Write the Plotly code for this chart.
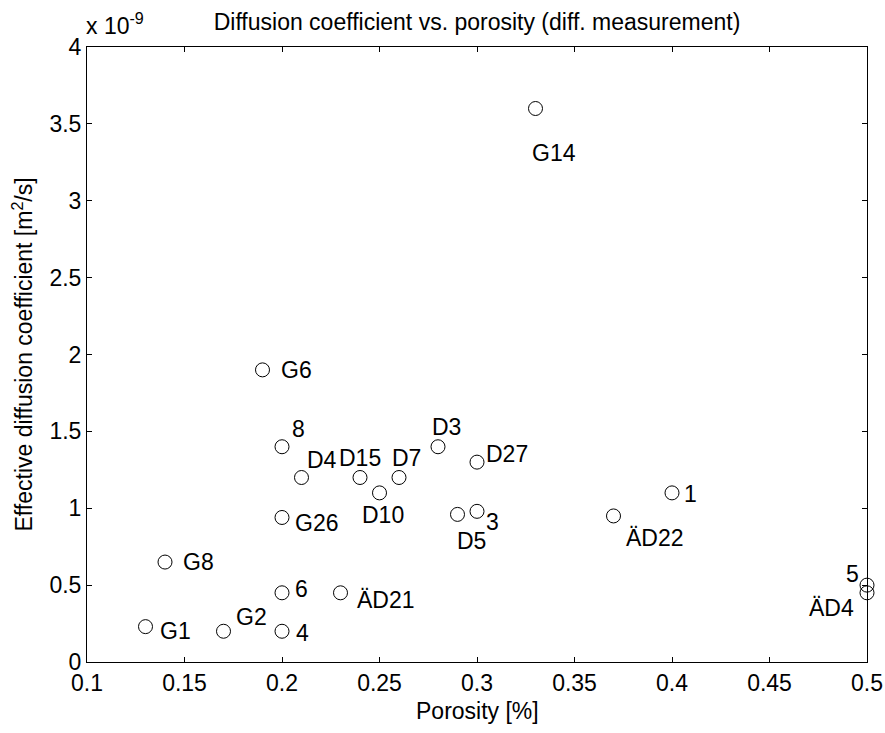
import plotly.graph_objects as go

# Data (effective diffusion coefficient in units of 1e-9 m^2/s)
labels = ["G14", "G6", "8", "D4", "D15", "D7", "D3", "D27", "D10", "G26", "D5", "3",
          "G8", "6", "ÄD21", "G1", "G2", "4", "1", "ÄD22", "5", "ÄD4"]
porosity = [0.33, 0.19, 0.20, 0.21, 0.24, 0.26, 0.28, 0.30, 0.25, 0.20, 0.29, 0.30,
            0.14, 0.20, 0.23, 0.13, 0.17, 0.20, 0.40, 0.37, 0.50, 0.50]
deff = [3.60, 1.90, 1.40, 1.20, 1.20, 1.20, 1.40, 1.30, 1.10, 0.94, 0.96, 0.98,
        0.65, 0.45, 0.45, 0.23, 0.20, 0.20, 1.10, 0.95, 0.50, 0.45]
# label offsets in pixels (dx right, dy down) relative to each point
label_dx = [18, 34, 16, 20, 0, 7, 8, 30, 3, 34, 14, 15, 33, 19, 45, 30, 28, 20, 18, 41, -15, -36]
label_dy = [44, 0, -18, -18, -20, -20, -20, -8, 22, 6, 27, 11, 0, -4, 7, 4, -14, 2, 1, 22, -11, 15]

xticks = [0.1, 0.15, 0.2, 0.25, 0.3, 0.35, 0.4, 0.45, 0.5]
yticks = [0, 0.5, 1, 1.5, 2, 2.5, 3, 3.5, 4]

FONT = "Liberation Sans, Arial, Helvetica, sans-serif"
FS = 23

fig = go.Figure()
fig.add_trace(go.Scatter(
    x=porosity, y=deff, mode="markers",
    marker=dict(symbol="circle-open", size=14, color="black", line=dict(width=1, color="black")),
    cliponaxis=False, showlegend=False, hoverinfo="skip"))

for lab, x, y, dx, dy in zip(labels, porosity, deff, label_dx, label_dy):
    fig.add_annotation(x=x, y=y, xref="x", yref="y", text=lab, showarrow=False,
                       xshift=dx, yshift=-dy, xanchor="center", yanchor="middle",
                       font=dict(family=FONT, size=FS, color="black"))

fig.add_annotation(x=0, y=1, xref="paper", yref="paper", text="x 10<sup>-9</sup>",
                   showarrow=False, xanchor="left", yanchor="bottom", yshift=6, xshift=-3,
                   font=dict(family=FONT, size=FS, color="black"))

fig.add_annotation(x=0, y=0.5, xref="paper", yref="paper",
                   text="Effective diffusion coefficient [m<sup>2</sup>/s]",
                   showarrow=False, textangle=-90, xanchor="center", yanchor="middle",
                   xshift=-65, font=dict(family=FONT, size=FS, color="black"))

fig.add_annotation(x=0.5, y=0, xref="paper", yref="paper", text="Porosity [%]",
                   showarrow=False, xanchor="center", yanchor="middle",
                   yshift=-49, font=dict(family=FONT, size=FS, color="black"))

axis_common = dict(showline=True, linecolor="black", linewidth=1, mirror="allticks",
                   ticks="inside", ticklen=5, tickcolor="black", tickwidth=1,
                   showgrid=False, zeroline=False, automargin=False,
                   tickfont=dict(family=FONT, size=FS, color="black"))

fig.update_layout(
    width=885, height=733,
    margin=dict(l=87, r=18, t=47, b=71),
    paper_bgcolor="white", plot_bgcolor="white",
    title=dict(text="Diffusion coefficient vs. porosity (diff. measurement)",
               x=0.539, xanchor="center", y=0.97, yanchor="middle",
               font=dict(family=FONT, size=FS, color="black")),
    xaxis=dict(range=[0.1, 0.5], tickvals=xticks, ticktext=[f"{v:g}" for v in xticks],
               **axis_common),
    yaxis=dict(range=[0, 4], tickvals=yticks, ticktext=[f"{v:g}" for v in yticks],
               **axis_common),
)

fig.write_html("out.html")
